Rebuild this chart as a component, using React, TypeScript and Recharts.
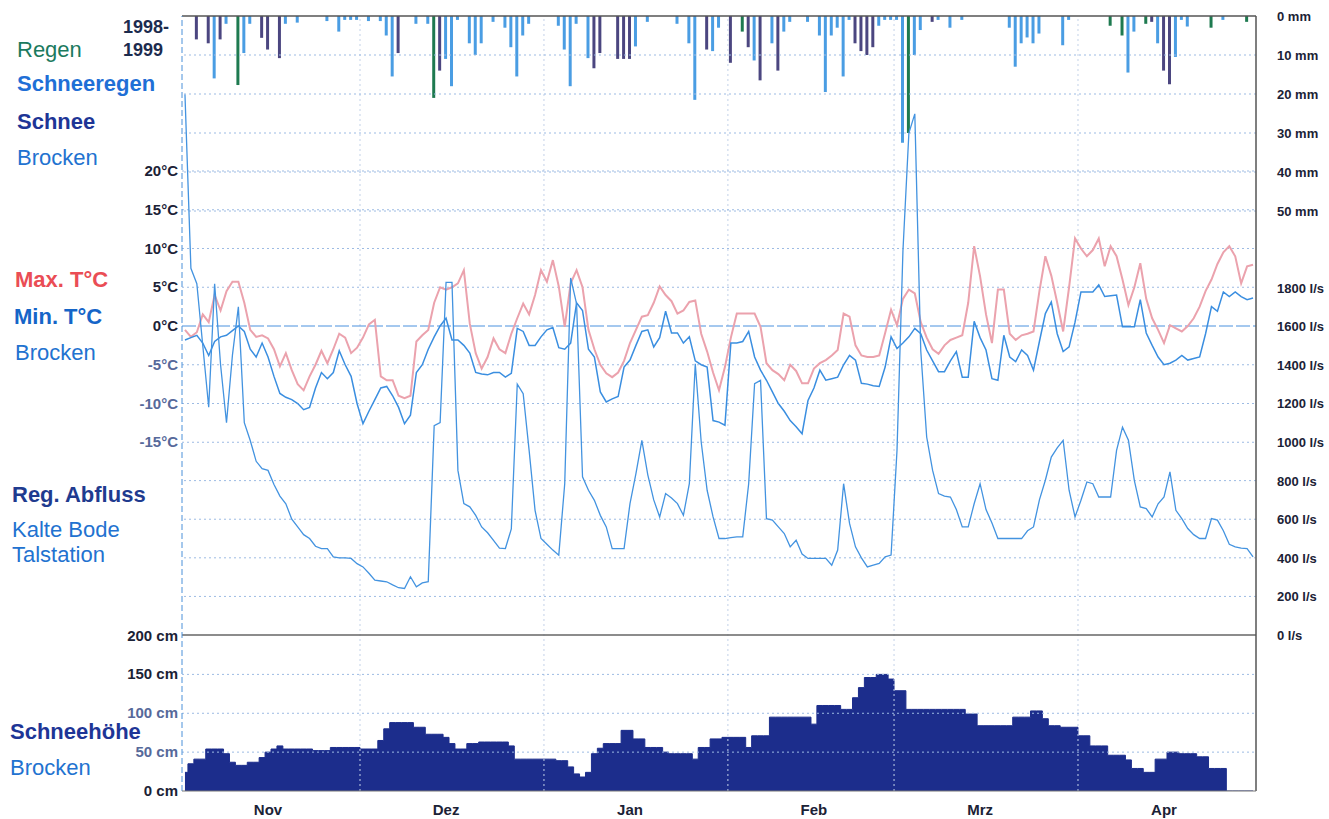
import { ComposedChart, Line, Bar, Area, XAxis, YAxis, ReferenceLine } from 'recharts';

const FONT = '"Liberation Sans", Arial, sans-serif';

// x axis: one category per day, 1 Nov 1998 .. 30 Apr 1999
const monthTicks = [14, 44, 75, 106, 134, 165];
const monthNames = ['Nov', 'Dez', 'Jan', 'Feb', 'Mrz', 'Apr'];
const monthStarts = [30, 61, 92, 120, 151];

const maxTemp = [
  -0.5, -1.4, -0.8, 1.5, 0.5, 4.0, 2.0, 4.5, 5.7, 5.7,
  3.0, -0.5, -1.4, -1.2, -1.6, -3.0, -5.2, -3.5, -5.7, -7.5,
  -8.3, -6.5, -5.0, -3.2, -4.8, -3.0, -1.0, -1.5, -3.5, -2.8,
  -1.5, 0.2, 0.8, -6.5, -7.0, -7.0, -9.0, -9.3, -9.0, -2.0,
  -1.2, -0.5, 3.0, 5.0, 4.7, 5.0, 5.5, 7.2, 0.3, -3.5,
  -5.5, -4.0, -1.6, -3.0, -3.5, -1.0, 1.0, 2.9, 1.5, 4.0,
  7.2, 5.7, 8.5, 5.1, -0.1, 5.5, 7.2, 5.0, -0.5, -3.0,
  -5.0, -6.1, -6.6, -6.0, -4.5, -2.2, -0.5, 1.2, 1.4, 3.0,
  5.1, 4.0, 3.2, 1.6, 2.0, 3.1, 3.3, -1.0, -3.3, -6.0,
  -8.3, -5.3, -1.5, 1.6, 1.6, 1.6, 1.6, -0.1, -4.8, -5.7,
  -6.2, -7.0, -5.0, -5.8, -7.4, -7.4, -5.5, -4.8, -4.4, -3.8,
  -3.1, 1.6, 1.2, -2.5, -3.8, -4.0, -4.0, -3.8, -0.9, 2.1,
  0.1, 3.5, 4.7, 4.2, 0.5, -1.5, -3.0, -3.6, -2.5, -1.8,
  -1.5, -1.2, 3.0, 10.3, 6.4, 1.5, -2.2, 4.7, 4.7, -1.0,
  -1.8, -1.2, -1.0, -0.7, 4.5, 9.0, 6.5, 3.0, -0.7, 5.0,
  11.3, 10.0, 9.0, 9.8, 11.3, 7.7, 10.3, 9.0, 6.0, 2.7,
  5.0, 8.1, 3.5, 1.0, -0.5, -2.2, 0.1, -0.3, -0.7, 0.0,
  1.0, 2.5, 4.5, 6.0, 8.0, 9.5, 10.3, 9.0, 5.5, 7.7,
  7.9,
];

const minTemp = [
  -1.8, -1.5, -1.2, -2.2, -3.8, -2.0, -1.4, -1.2, -0.6, 0.0,
  -0.7, -3.0, -4.0, -2.2, -4.0, -6.5, -8.7, -9.2, -9.5, -10.0,
  -10.8, -10.5, -8.0, -6.0, -6.8, -6.0, -3.2, -5.0, -6.5, -10.0,
  -12.6, -11.0, -9.5, -8.0, -7.8, -9.0, -10.5, -12.6, -11.5, -6.0,
  -5.0, -3.0, -1.4, 0.0, 1.0, -1.8, -1.8, -2.5, -3.5, -6.0,
  -6.2, -6.3, -6.0, -6.0, -6.6, -6.1, -0.3, -0.7, -2.5, -2.5,
  -1.4, -0.5, -0.2, -2.8, -3.0, -2.2, 3.0, 2.0, -3.0, -4.0,
  -8.5, -9.8, -9.4, -9.1, -5.3, -4.4, -2.5, -0.7, -0.5, -2.7,
  -1.5, 1.9, -0.9, -0.9, -2.2, -1.4, -4.5, -5.0, -5.3, -12.2,
  -12.4, -12.8, -2.2, -2.2, -2.0, -0.7, -4.0, -5.7, -7.0, -8.5,
  -10.0, -11.0, -12.2, -13.0, -13.9, -9.6, -8.0, -5.7, -7.0, -6.8,
  -6.6, -5.0, -3.8, -4.4, -7.4, -7.5, -7.7, -7.8, -5.3, -1.4,
  -2.9, -2.2, -1.4, -0.3, -1.0, -3.1, -4.5, -5.9, -5.9, -4.5,
  -3.3, -6.6, -6.6, 0.6, -1.5, -3.1, -6.8, -7.0, -1.2, -4.0,
  -4.6, -3.1, -3.8, -5.7, -2.0, 1.6, 3.1, -1.0, -3.3, -2.7,
  0.5, 4.4, 4.4, 4.4, 5.3, 3.8, 3.9, 4.0, -0.1, -0.1,
  -0.1, 3.4, -0.9, -2.5, -4.0, -5.0, -4.8, -4.4, -3.8, -4.4,
  -4.2, -4.0, -1.0, 2.5, 1.9, 4.4, 3.8, 4.4, 3.8, 3.4,
  3.6,
];

// l/s, Kalte Bode Talstation
const discharge = [
  2800, 1900, 1820, 1500, 1180, 1820, 1400, 1100, 1450, 1700,
  1100, 1008, 900, 862, 853, 780, 720, 680, 600, 560,
  520, 500, 460, 448, 448, 405, 400, 400, 397, 370,
  353, 320, 284, 280, 276, 260, 245, 241, 302, 250,
  270, 276, 1085, 1100, 1827, 1827, 853, 681, 664, 620,
  560, 530, 490, 450, 448, 550, 1300, 1250, 957, 646,
  500, 470, 440, 414, 784, 1850, 1716, 820, 750, 698,
  620, 560, 448, 448, 448, 681, 836, 1009, 830, 700,
  612, 733, 710, 681, 620, 784, 1405, 1000, 750, 612,
  500, 500, 505, 509, 509, 784, 1302, 1319, 603, 595,
  560, 526, 457, 491, 420, 397, 397, 397, 397, 362,
  440, 784, 578, 457, 400, 353, 362, 371, 405, 414,
  957, 1991, 2600, 2700, 1474, 1026, 853, 733, 720, 715,
  650, 560, 560, 680, 784, 650, 580, 500, 500, 500,
  500, 500, 540, 560, 700, 802, 922, 970, 1009, 750,
  612, 698, 793, 784, 715, 715, 715, 957, 1077, 1009,
  800, 664, 655, 612, 680, 715, 845, 646, 603, 552,
  520, 500, 500, 603, 595, 540, 470, 457, 450, 448,
  405,
];

// cm, Brocken
const snowDepth = [
  24, 35, 41, 41, 54, 54, 54, 48, 37, 33,
  33, 37, 37, 43, 50, 54, 58, 54, 54, 54,
  54, 54, 52, 52, 52, 56, 56, 56, 56, 56,
  54, 54, 54, 65, 80, 88, 88, 88, 88, 82,
  82, 73, 73, 73, 69, 61, 54, 54, 61, 61,
  63, 63, 63, 63, 63, 58, 41, 41, 41, 41,
  41, 41, 41, 39, 39, 31, 22, 18, 24, 48,
  55, 61, 61, 61, 78, 78, 67, 67, 56, 56,
  56, 50, 48, 48, 48, 48, 41, 56, 56, 67,
  67, 69, 69, 69, 69, 56, 71, 71, 71, 95,
  95, 95, 95, 95, 95, 95, 86, 110, 110, 110,
  110, 105, 105, 120, 133, 146, 146, 150, 150, 144,
  129, 129, 105, 105, 105, 105, 105, 105, 105, 105,
  105, 105, 99, 99, 84, 84, 84, 84, 84, 84,
  95, 95, 95, 103, 103, 93, 84, 84, 82, 82,
  82, 71, 71, 58, 58, 58, 46, 46, 46, 40,
  29, 29, 24, 24, 41, 41, 50, 50, 48, 48,
  48, 44, 44, 29, 29, 29, 0, 0, 0, 0,
  0,
];

// precipitation (mm) by day index, per type
const rainDays = [9, 42, 94, 122, 156, 158, 162, 173, 179];
const rainMm = [17.7, 21, 4, 30, 2.5, 5, 2, 3, 1.5];

const sleetDays = [
  5, 7, 10, 11, 17, 19, 24, 26, 27, 28, 29, 31, 33, 34, 35, 39, 41, 44, 45, 46,
  48, 49, 50, 52, 54, 55, 56, 57, 58, 63, 64, 65, 66, 68, 76, 78, 83, 85, 86, 89,
  90, 96, 99, 101, 102, 105, 107, 108, 109, 110, 111, 112, 117, 118, 119, 120, 121, 123, 124, 127,
  129, 131, 139, 140, 141, 142, 143, 144, 148, 149, 159, 160, 164, 167, 168, 169, 175,
];
const sleetMm = [
  16, 2, 9.5, 2, 2, 1.7, 1.3, 4, 1, 1, 1, 1.3, 1.3, 5, 15.5, 2, 2, 11, 18, 1,
  7, 10, 7, 1.5, 3, 8, 15.5, 5, 2, 2.5, 8.6, 18, 2, 10.8, 7.8, 1.5, 2, 7, 21.5, 9,
  3, 11.4, 7, 4, 1.5, 1.5, 5, 19.5, 5, 3, 15.5, 1, 2.5, 1, 1, 1, 32.5, 10, 3.6, 1,
  3, 1, 3, 13, 7, 5.5, 7, 4.5, 7.5, 1, 14.5, 4, 7, 10.5, 1, 2.7, 1,
];

const snowfallDays = [2, 4, 6, 13, 14, 16, 36, 43, 69, 70, 73, 74, 75, 88, 92, 95, 97, 100, 113, 114, 115, 116, 126, 163, 165, 166];
const snowfallMm = [6, 7, 6, 5.6, 8.6, 10.8, 9.5, 14, 13.4, 9.5, 11, 11, 11, 8.6, 12, 8, 16.5, 14, 7, 9, 10, 8, 1.5, 1.5, 14, 17.5];

const precipTicks = [0, 10, 20, 30, 40, 50];
const tempTicks = [20, 15, 10, 5, 0, -5, -10, -15];
const flowTicks = [1800, 1600, 1400, 1200, 1000, 800, 600, 400, 200, 0];
const depthTicks = [200, 150, 100, 50, 0];

const pick = (days: number[], mm: number[], i: number) => {
  const k = days.indexOf(i);
  return k < 0 ? 0 : mm[k];
};

const rows = maxTemp.map((t, i) => ({
  day: i,
  tmax: t,
  tmin: minTemp[i],
  q: discharge[i],
  depth: snowDepth[i],
  rain: pick(rainDays, rainMm, i),
  sleet: pick(sleetDays, sleetMm, i),
  snowfall: pick(snowfallDays, snowfallMm, i),
}));

const INK = '#1b2236';
const FADED = '#56699a';
const GRID = '#9dbbe3';

const leftTick = (unit: string, faded: (v: number) => boolean) => (p: any) => (
  <text x={170} y={p.y} dy={5} textAnchor="end" fontSize={15} fontWeight="bold"
    fontFamily={FONT} fill={faded(p.payload.value) ? FADED : INK}>
    {`${p.payload.value}${unit}`}
  </text>
);

const rightTick = (unit: string) => (p: any) => (
  <text x={1269} y={p.y} dy={5} textAnchor="start" fontSize={13} fontWeight="bold"
    fontFamily={FONT} fill={INK}>
    {`${p.payload.value}${unit}`}
  </text>
);

const monthTick = (p: any) => {
  const k = monthTicks.indexOf(Number(p.payload.value));
  if (k < 0) return <g />;
  return (
    <text x={p.x} y={807} textAnchor="middle" fontSize={15} fontWeight="bold"
      fontFamily={FONT} fill={INK}>
      {monthNames[k]}
    </text>
  );
};

const legend = [
  { t: 'Regen', x: 17, y: 57, c: '#1b7a5e', b: false },
  { t: 'Schneeregen', x: 17, y: 91, c: '#1f6fd6', b: true },
  { t: 'Schnee', x: 17, y: 129, c: '#1e3596', b: true },
  { t: 'Brocken', x: 17, y: 165, c: '#2272d0', b: false },
  { t: 'Max. T°C', x: 15, y: 287, c: '#ea4d55', b: true },
  { t: 'Min. T°C', x: 14, y: 324, c: '#1565c8', b: true },
  { t: 'Brocken', x: 15, y: 360, c: '#2272d0', b: false },
  { t: 'Reg. Abfluss', x: 12, y: 502, c: '#1f3b8f', b: true },
  { t: 'Kalte Bode', x: 12, y: 537, c: '#2272d0', b: false },
  { t: 'Talstation', x: 12, y: 562, c: '#2272d0', b: false },
  { t: 'Schneehöhe', x: 10, y: 739, c: '#1e3596', b: true },
  { t: 'Brocken', x: 10, y: 775, c: '#2272d0', b: false },
];

export default function App() {
  return (
    <div style={{ position: 'absolute', left: 8, top: 8, width: 1321, height: 811, fontFamily: FONT }}>
      <ComposedChart width={1321} height={811} data={rows}
        margin={{ top: 8, right: 8, bottom: 0, left: 54 }} barCategoryGap={0}>
        <XAxis dataKey="day" type="category" ticks={monthTicks} interval={0} height={28}
          tickLine={false} axisLine={{ stroke: '#777' }} tick={monthTick} />
        <YAxis yAxisId="temp" orientation="left" width={60} domain={[-60, 40]} allowDataOverflow
          ticks={tempTicks} interval={0} axisLine={false} tickLine={false} tick={leftTick('°C', (v) => v < 0)} />
        <YAxis yAxisId="depth" orientation="left" width={60} domain={[0, 997]} allowDataOverflow
          ticks={depthTicks} interval={0} axisLine={false} tickLine={false} tick={leftTick(' cm', (v) => v === 100 || v === 50)} />
        <YAxis yAxisId="precip" orientation="right" width={32} domain={[0, 198.7]} reversed allowDataOverflow
          ticks={precipTicks} interval={0} axisLine={false} tickLine={false} tick={rightTick(' mm')} />
        <YAxis yAxisId="flow" orientation="right" width={33} domain={[-808, 3207]} allowDataOverflow
          ticks={flowTicks} interval={0} axisLine={false} tickLine={false} tick={rightTick(' l/s')} />

        {monthStarts.map((d) => (
          <ReferenceLine key={`m${d}`} x={d} position="start" yAxisId="temp" stroke="#c3d2e8" strokeDasharray="2 3" />
        ))}
        {precipTicks.slice(1).map((v) => (
          <ReferenceLine key={`p${v}`} y={v} yAxisId="precip" stroke={GRID} strokeDasharray="2 3" />
        ))}
        {tempTicks.filter((v) => v !== 0).map((v) => (
          <ReferenceLine key={`t${v}`} y={v} yAxisId="temp" stroke={GRID} strokeDasharray="2 3" />
        ))}
        {[800, 600, 400, 200].map((v) => (
          <ReferenceLine key={`q${v}`} y={v} yAxisId="flow" stroke={GRID} strokeDasharray="2 3" />
        ))}
        {[150, 100, 50].map((v) => (
          <ReferenceLine key={`s${v}`} y={v} yAxisId="depth" stroke={GRID} strokeDasharray="2 3" />
        ))}

        <Area yAxisId="depth" dataKey="depth" type="step" stroke="#1c2d8c" fill="#1c2d8c"
          fillOpacity={1} strokeWidth={1} isAnimationActive={false} />
        <Bar yAxisId="precip" dataKey="snowfall" stackId="p" fill="#4b4680" barSize={3} isAnimationActive={false} />
        <Bar yAxisId="precip" dataKey="sleet" stackId="p" fill="#4a9de3" barSize={3} isAnimationActive={false} />
        <Bar yAxisId="precip" dataKey="rain" stackId="p" fill="#1e7a50" barSize={3} isAnimationActive={false} />

        <ReferenceLine y={0} yAxisId="temp" stroke="#4b91de" strokeDasharray="14 3" />
        <ReferenceLine y={0} yAxisId="flow" stroke="#666" strokeWidth={1.5} />
        <ReferenceLine y={0} yAxisId="precip" stroke="#555" strokeWidth={1.5} />
        <ReferenceLine x={0} position="start" yAxisId="temp" stroke="#4a90d9" strokeDasharray="6 3" />
        <ReferenceLine x={180} position="end" yAxisId="temp" stroke="#555" strokeWidth={1.5} />

        <Line yAxisId="temp" dataKey="tmax" type="linear" stroke="#eba2ad" strokeWidth={2} dot={false} isAnimationActive={false} />
        <Line yAxisId="temp" dataKey="tmin" type="linear" stroke="#3a8ee0" strokeWidth={1.5} dot={false} isAnimationActive={false} />
        <Line yAxisId="flow" dataKey="q" type="linear" stroke="#4393e0" strokeWidth={1.3} dot={false} isAnimationActive={false} />
      </ComposedChart>

      <svg width={200} height={811} style={{ position: 'absolute', left: 0, top: 0, overflow: 'visible', pointerEvents: 'none' }}>
        <g transform="translate(-8,-8)" fontFamily={FONT}>
          <text x={123} y={33} fontSize={18} fontWeight="bold" fill="#1c2b4e">1998-</text>
          <text x={123} y={56} fontSize={18} fontWeight="bold" fill="#1c2b4e">1999</text>
          {legend.map((l, i) => (
            <text key={i} x={l.x} y={l.y} fontSize={22} fontWeight={l.b ? 'bold' : 'normal'} fill={l.c}>{l.t}</text>
          ))}
        </g>
      </svg>
    </div>
  );
}
